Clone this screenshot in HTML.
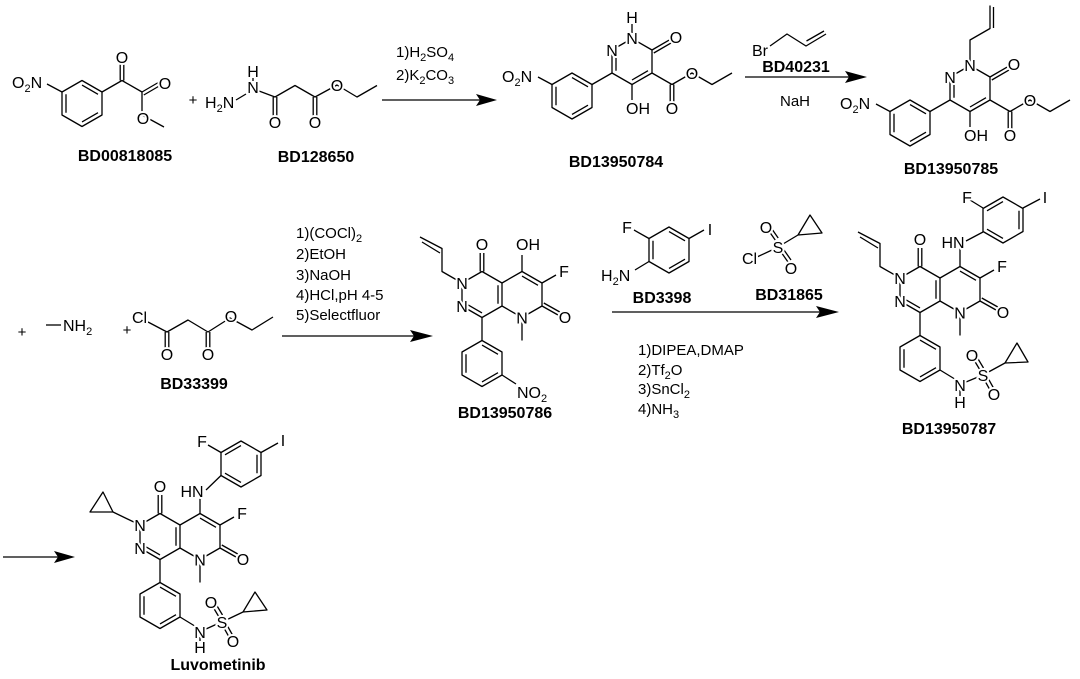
<!DOCTYPE html>
<html><head><meta charset="utf-8"><style>
html,body{margin:0;padding:0;background:#fff;}
svg{display:block;}
text{font-family:"Liberation Sans",Arial,sans-serif;fill:#000;}
.a{font-size:16px;stroke:#fff;stroke-width:4px;paint-order:stroke;stroke-linejoin:round;}
.lb{font-size:16px;font-weight:bold;}
.r{font-size:15px;}
.b{fill:none;stroke:#000;stroke-width:1.3;stroke-linejoin:round;}
</style></head><body>
<svg width="1080" height="679" viewBox="0 0 1080 679" xmlns="http://www.w3.org/2000/svg">
<defs>
<path id="hexA" class="b" d="M0,-23 L20,-11.5 L20,11.5 L0,23 L-20,11.5 L-20,-11.5 Z M-16,-9.2 L-16,9.2 M0,-18.4 L16,-9.2 M16,9.2 L0,18.4"/>
<path id="hexB" class="b" d="M0,-23 L20,-11.5 L20,11.5 L0,23 L-20,11.5 L-20,-11.5 Z M0,-18.4 L-16,-9.2 M16,-9.2 L16,9.2 M0,18.4 L-16,9.2"/>
<path id="fused" class="b" d="M-20,-11.5 L0,0 L0,23 L-20,34.5 L-40,23 L-40,0 Z M0,0 L20,-11.5 L40,0 L40,23 L20,34.5 L0,23 M-4,2.3 L-4,20.7 M-36,20.7 L-20,29.9 M20,-6.9 L36,2.3 M-21.8,-11.5 L-21.8,-30 M-18.2,-11.5 L-18.2,-30 M40,23 L56,32 M41.8,20 L57.8,29 M20,34.5 L20,57.5 M-20,34.5 L-20,57.5 M40,0 L54,-8"/>
</defs>

<!-- Compound 1 -->
<use href="#hexA" x="82" y="103.5"/>
<path class="b" d="M62,92 L47,84 M102,92 L122,80.5 L142,92 L142,115 L164,127 M120.2,80.5 L120.2,60 M123.8,80.5 L123.8,60 M142,92 L160,81.5 M143.8,95 L161.8,84.5"/>
<text class="a" x="122" y="63" text-anchor="middle">O</text>
<text class="a" x="165" y="89" text-anchor="middle">O</text>
<text class="a" x="143" y="124" text-anchor="middle">O</text>
<text class="a" x="12" y="88">O<tspan font-size="11" dy="4">2</tspan><tspan dy="-4">N</tspan></text>
<text class="lb" x="125" y="161" text-anchor="middle">BD00818085</text>
<text class="r" x="193" y="105" text-anchor="middle" font-size="17">+</text>

<!-- Compound 2 -->
<path class="b" d="M236,100 L246,94 M253,78 L253,81 M259,91 L275,97 L295,85.5 L315,97 L337,85 L357,97 L377,85.5 M273.2,97 L273.2,116 M276.8,97 L276.8,116 M313.2,97 L313.2,116 M316.8,97 L316.8,116"/>
<text class="a" x="205" y="108">H<tspan font-size="11" dy="4">2</tspan><tspan dy="-4">N</tspan></text>
<text class="a" x="253" y="93" text-anchor="middle">N</text>
<text class="a" x="253" y="77" text-anchor="middle">H</text>
<text class="a" x="275" y="128" text-anchor="middle">O</text>
<text class="a" x="315" y="128" text-anchor="middle">O</text>
<text class="a" x="337" y="91" text-anchor="middle">O</text>
<text class="lb" x="316" y="162" text-anchor="middle">BD128650</text>

<!-- Arrow 1 -->
<path class="b" d="M382,100 L480,100"/>
<polygon points="476,94 497,100 476,106 480,100"/>
<text class="r" x="396" y="57">1)H<tspan font-size="11" dy="4">2</tspan><tspan dy="-4">SO</tspan><tspan font-size="11" dy="4">4</tspan></text>
<text class="r" x="396" y="80">2)K<tspan font-size="11" dy="4">2</tspan><tspan dy="-4">CO</tspan><tspan font-size="11" dy="4">3</tspan></text>

<!-- Compound 784 -->
<g>
<use href="#hexA" x="572" y="96"/>
<path class="b" d="M592,84.5 L612,73 M552,84.5 L538,77 M612,73 L612,50 L632,38.5 L652,50 L652,73 L632,84.5 Z M616,70.7 L616,52.3 M648,70.7 L632,80 M652,50 L670,39.6 M653.8,53 L671.8,42.6 M632,84.5 L632,100 M652,73 L672,84.5 L692,73 L712,84.5 L732,73 M670.2,84.5 L670.2,104 M673.8,84.5 L673.8,104 M632,24 L632,33"/>
<text class="a" x="612" y="56" text-anchor="middle">N</text>
<text class="a" x="632" y="44" text-anchor="middle">N</text>
<text class="a" x="632" y="23" text-anchor="middle">H</text>
<text class="a" x="676" y="43" text-anchor="middle">O</text>
<text class="a" x="638" y="114" text-anchor="middle">OH</text>
<text class="a" x="672" y="114" text-anchor="middle">O</text>
<text class="a" x="692" y="79" text-anchor="middle">O</text>
<text class="a" x="502" y="82">O<tspan font-size="11" dy="4">2</tspan><tspan dy="-4">N</tspan></text>
</g>
<text class="lb" x="616" y="167" text-anchor="middle">BD13950784</text>

<!-- Arrow 2 -->
<path class="b" d="M745,77 L850,77 M770,46 L787,34 L806,46 L826,34 M806.5,41 L824,31"/>
<polygon points="845,71 867,77 845,83 849,77"/>
<text class="a" x="752" y="56">Br</text>
<text class="lb" x="796" y="72" text-anchor="middle" font-size="15">BD40231</text>
<text class="r" x="795" y="106" text-anchor="middle">NaH</text>

<!-- Compound 785 -->
<g transform="translate(338,27)">
<use href="#hexA" x="572" y="96"/>
<path class="b" d="M592,84.5 L612,73 M552,84.5 L538,77 M612,73 L612,50 L632,38.5 L652,50 L652,73 L632,84.5 Z M616,70.7 L616,52.3 M648,70.7 L632,80 M652,50 L670,39.6 M653.8,53 L671.8,42.6 M632,84.5 L632,100 M652,73 L672,84.5 L692,73 L712,84.5 L732,73 M670.2,84.5 L670.2,104 M673.8,84.5 L673.8,104 M632,38.5 L632,13 L652,1.5 L652,-21.5 M655.5,1 L655.5,-20"/>
<text class="a" x="612" y="56" text-anchor="middle">N</text>
<text class="a" x="632" y="44" text-anchor="middle">N</text>
<text class="a" x="676" y="43" text-anchor="middle">O</text>
<text class="a" x="638" y="114" text-anchor="middle">OH</text>
<text class="a" x="672" y="114" text-anchor="middle">O</text>
<text class="a" x="692" y="79" text-anchor="middle">O</text>
<text class="a" x="502" y="82">O<tspan font-size="11" dy="4">2</tspan><tspan dy="-4">N</tspan></text>
</g>
<text class="lb" x="951" y="174" text-anchor="middle">BD13950785</text>

<!-- Row 2 left -->
<text class="r" x="22" y="337" text-anchor="middle" font-size="17">+</text>
<path class="b" d="M46,325 L61,325"/>
<text class="a" x="63" y="331">NH<tspan font-size="11" dy="4">2</tspan></text>
<text class="r" x="127" y="335" text-anchor="middle" font-size="17">+</text>
<path class="b" d="M148,322 L167,332 L188,320 L208,332 L230,318 L252,330 L273,317 M165.2,332 L165.2,350 M168.8,332 L168.8,350 M206.2,332 L206.2,350 M209.8,332 L209.8,350"/>
<text class="a" x="132" y="323">Cl</text>
<text class="a" x="167" y="360" text-anchor="middle">O</text>
<text class="a" x="208" y="360" text-anchor="middle">O</text>
<text class="a" x="231" y="322" text-anchor="middle">O</text>
<text class="lb" x="194" y="389" text-anchor="middle">BD33399</text>

<!-- Arrow 3 -->
<path class="b" d="M282,336 L415,336"/>
<polygon points="410,330 433,336 410,342 414,336"/>
<text class="r" x="296" y="238">1)(COCl)<tspan font-size="11" dy="4">2</tspan></text>
<text class="r" x="296" y="259">2)EtOH</text>
<text class="r" x="296" y="280">3)NaOH</text>
<text class="r" x="296" y="300">4)HCl,pH 4-5</text>
<text class="r" x="296" y="320">5)Selectfluor</text>

<!-- Compound 786 -->
<g transform="translate(502,283)">
<use href="#fused"/>
<use href="#hexA" x="-20" y="80.5"/>
<path class="b" d="M-40,0 L-60,-11.5 L-60,-34.5 L-82,-46 M-62,-30 L-80,-41 M20,-11.5 L20,-28 M0,92 L14,101"/>
<text class="a" x="-40" y="6" text-anchor="middle">N</text>
<text class="a" x="-40" y="29" text-anchor="middle">N</text>
<text class="a" x="20" y="40.5" text-anchor="middle">N</text>
<text class="a" x="-20" y="-33" text-anchor="middle">O</text>
<text class="a" x="26" y="-33" text-anchor="middle">OH</text>
<text class="a" x="62" y="-6" text-anchor="middle">F</text>
<text class="a" x="63" y="40" text-anchor="middle">O</text>
<text class="a" x="15" y="115">NO<tspan font-size="11" dy="4">2</tspan></text>
</g>
<text class="lb" x="505" y="418" text-anchor="middle">BD13950786</text>

<!-- Reagents 4 -->
<use href="#hexA" x="669" y="250"/>
<path class="b" d="M649,238.5 L634,230 M689,238.5 L704,230 M649,261.5 L635,270"/>
<text class="a" x="627" y="233" text-anchor="middle">F</text>
<text class="a" x="710" y="235" text-anchor="middle">I</text>
<text class="a" x="601" y="281">H<tspan font-size="11" dy="4">2</tspan><tspan dy="-4">N</tspan></text>
<text class="lb" x="662" y="303" text-anchor="middle" font-size="15">BD3398</text>
<path class="b" d="M757,257 L772,250 M778,247 L798,235 M798,235 L810,215 L822,233 Z M775.2,240 L768.2,230 M778.2,238 L771.2,228 M781,252 L788,262 M784,250 L791,260"/>
<text class="a" x="778" y="253" text-anchor="middle">S</text>
<text class="a" x="766" y="233" text-anchor="middle">O</text>
<text class="a" x="791" y="274" text-anchor="middle">O</text>
<text class="a" x="742" y="264">Cl</text>
<text class="lb" x="789" y="300" text-anchor="middle" font-size="15">BD31865</text>
<path class="b" d="M612,312 L820,312"/>
<polygon points="816,306 839,312 816,318 820,312"/>
<text class="r" x="638" y="355">1)DIPEA,DMAP</text>
<text class="r" x="638" y="375">2)Tf<tspan font-size="11" dy="4">2</tspan><tspan dy="-4">O</tspan></text>
<text class="r" x="638" y="394">3)SnCl<tspan font-size="11" dy="4">2</tspan></text>
<text class="r" x="638" y="414">4)NH<tspan font-size="11" dy="4">3</tspan></text>

<!-- Compound 787 -->
<g transform="translate(940,278)">
<use href="#fused"/>
<use href="#hexA" x="-20" y="80.5"/>
<use href="#hexB" x="63" y="-58"/>
<path class="b" d="M-40,0 L-60,-11.5 L-60,-34.5 L-82,-46 M-62,-30 L-80,-41 M20,-11.5 L20,-30 M26,-37 L43,-46 M43,-70 L30,-78 M83,-70 L100,-79 M0,92 L18,103 M20,112 L20,118 M26,104 L38,99 M43,97 L65,85 M65,85 L77,65 L88,84 Z M40,92 L34,82 M43.5,90 L37.5,80 M45,103 L50,112 M48.5,101 L53.5,110"/>
<text class="a" x="-40" y="6" text-anchor="middle">N</text>
<text class="a" x="-40" y="29" text-anchor="middle">N</text>
<text class="a" x="20" y="40.5" text-anchor="middle">N</text>
<text class="a" x="-20" y="-33" text-anchor="middle">O</text>
<text class="a" x="13" y="-30" text-anchor="middle">HN</text>
<text class="a" x="27" y="-75" text-anchor="middle">F</text>
<text class="a" x="105" y="-75" text-anchor="middle">I</text>
<text class="a" x="62" y="-6" text-anchor="middle">F</text>
<text class="a" x="63" y="40" text-anchor="middle">O</text>
<text class="a" x="20" y="113" text-anchor="middle">N</text>
<text class="a" x="20" y="130" text-anchor="middle">H</text>
<text class="a" x="43" y="103" text-anchor="middle">S</text>
<text class="a" x="32" y="83" text-anchor="middle">O</text>
<text class="a" x="54" y="122" text-anchor="middle">O</text>
</g>
<text class="lb" x="949" y="434" text-anchor="middle">BD13950787</text>

<!-- Arrow 5 -->
<path class="b" d="M3,557 L60,557"/>
<polygon points="54,551 75,557 54,563 58,557"/>

<!-- Luvometinib -->
<g transform="translate(180,525)">
<use href="#fused"/>
<use href="#hexA" x="-20" y="80.5"/>
<use href="#hexB" x="61" y="-61"/>
<path class="b" d="M-40,0 L-67,-13 M-67,-13 L-77,-33 L-90,-13 Z M20,-11.5 L20,-28 M26,-35 L41,-49.5 M41,-72.5 L28,-80 M81,-72.5 L98,-82 M0,92 L18,103 M20,112 L20,116 M26,104 L37,99 M42,97 L63,87 M63,87 L75,67 L87,85 Z M39,92 L33,82 M42.5,90 L36.5,80 M44,103 L49,112 M47.5,101 L52.5,110"/>
<text class="a" x="-40" y="6" text-anchor="middle">N</text>
<text class="a" x="-40" y="29" text-anchor="middle">N</text>
<text class="a" x="20" y="40.5" text-anchor="middle">N</text>
<text class="a" x="-20" y="-33" text-anchor="middle">O</text>
<text class="a" x="12" y="-28" text-anchor="middle">HN</text>
<text class="a" x="22" y="-78" text-anchor="middle">F</text>
<text class="a" x="103" y="-79" text-anchor="middle">I</text>
<text class="a" x="62" y="-6" text-anchor="middle">F</text>
<text class="a" x="63" y="40" text-anchor="middle">O</text>
<text class="a" x="20" y="113" text-anchor="middle">N</text>
<text class="a" x="20" y="128" text-anchor="middle">H</text>
<text class="a" x="42" y="103" text-anchor="middle">S</text>
<text class="a" x="31" y="83" text-anchor="middle">O</text>
<text class="a" x="53" y="122" text-anchor="middle">O</text>
</g>
<text class="lb" x="218" y="670" text-anchor="middle" font-size="18">Luvometinib</text>
</svg>
</body></html>
